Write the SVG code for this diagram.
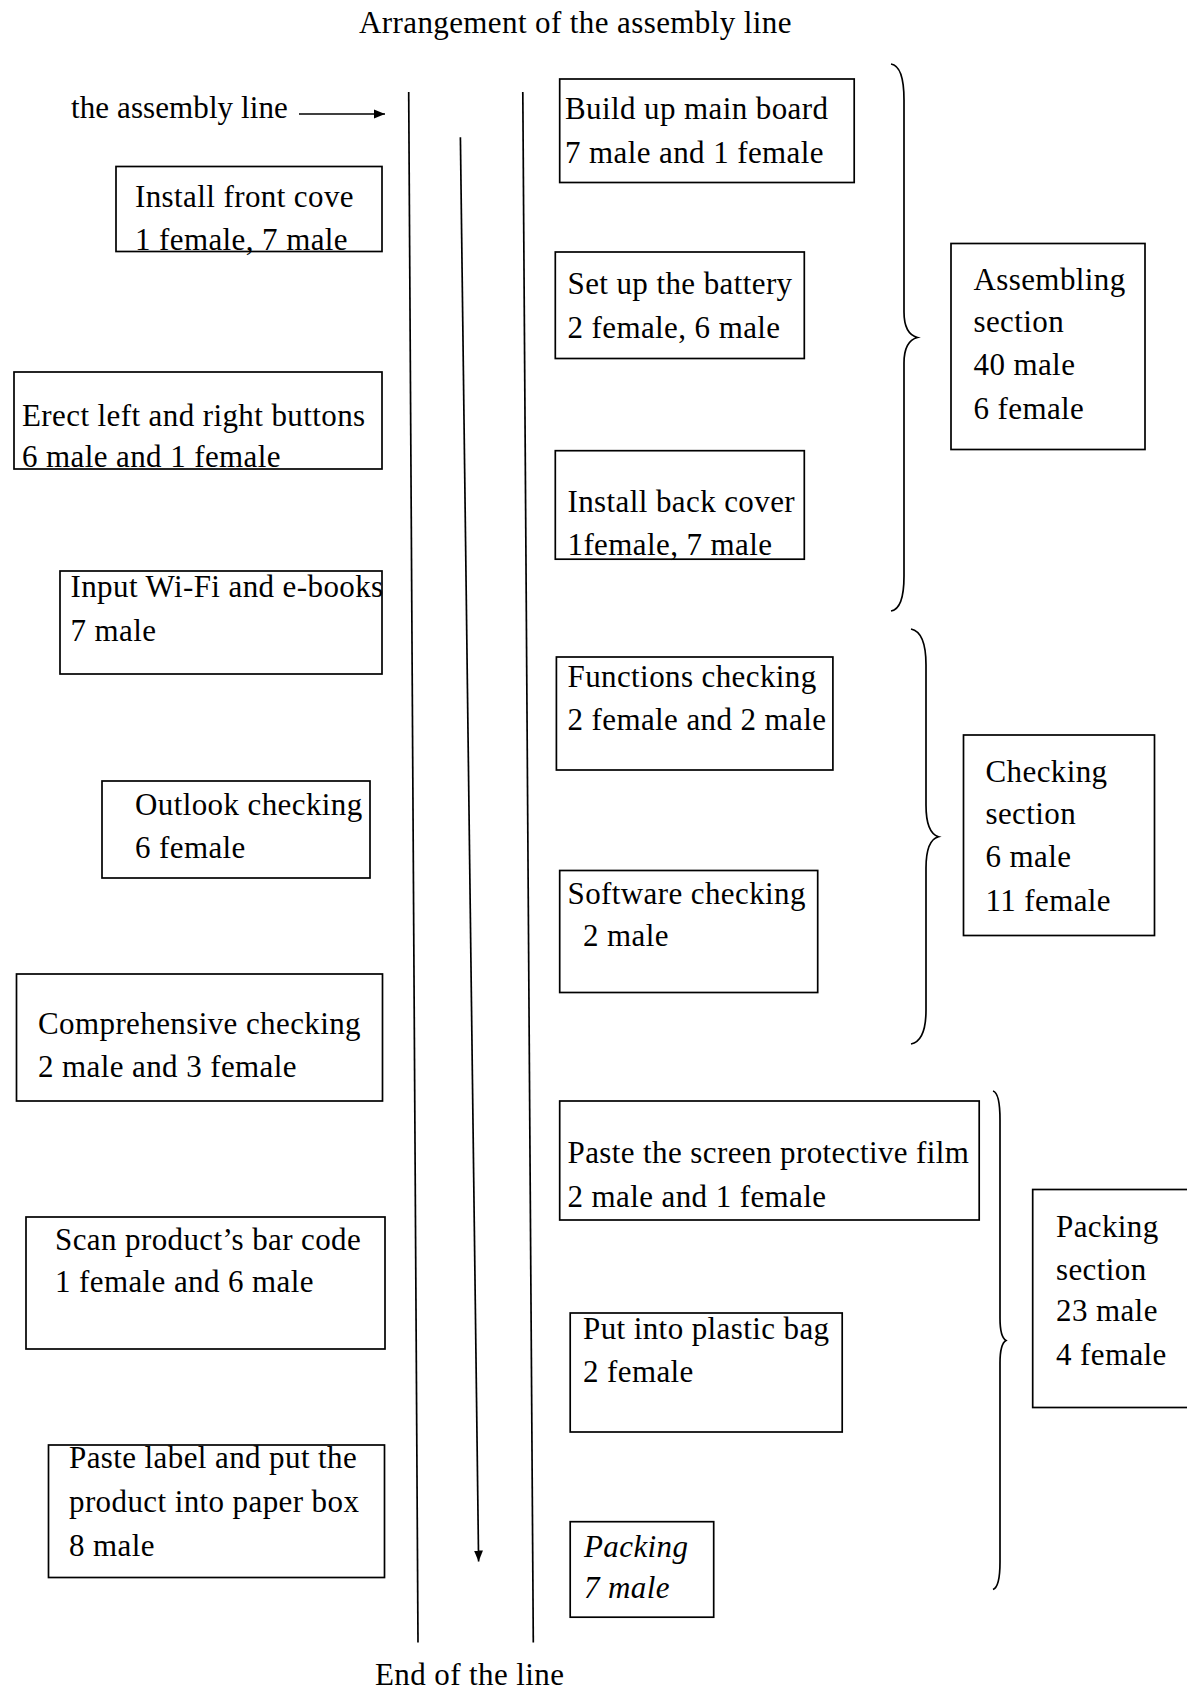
<svg xmlns="http://www.w3.org/2000/svg" width="1187" height="1691" viewBox="0 0 1187 1691">
<style>
text{font-family:"Liberation Serif","Times New Roman",serif;font-size:31px;letter-spacing:0.4px;fill:#000}
.box{fill:none;stroke:#000;stroke-width:1.7}
.ln{fill:none;stroke:#000;stroke-width:1.7}
.br{fill:none;stroke:#000;stroke-width:1.7}
.it{font-style:italic}
</style>
<defs>
<marker id="ah" markerUnits="userSpaceOnUse" markerWidth="12" markerHeight="10" refX="11" refY="5" orient="auto">
<path d="M0,0.5 L11,5 L0,9.5 Z" fill="#000"/>
</marker>
</defs>
<rect width="1187" height="1691" fill="#fff"/>
<text x="359" y="33">Arrangement of the assembly line</text>
<text x="71" y="118" style="letter-spacing:0.1px">the assembly line</text>
<text x="375" y="1685">End of the line</text>

<g id="connectors">
<line class="ln" x1="299" y1="114" x2="385" y2="114" marker-end="url(#ah)"/>
<line class="ln" x1="408.7" y1="92" x2="418" y2="1642.5"/>
<line class="ln" x1="460.4" y1="137.3" x2="478.6" y2="1561.5" marker-end="url(#ah)"/>
<line class="ln" x1="522.8" y1="92" x2="533.3" y2="1642.5"/>
</g>

<g id="braces">
<path class="br" d="M891,64 Q904,66 904,100 L904,312 Q904,334 917.5,337.5 Q904,341 904,363 L904,576 Q904,609 891,611"/>
<path class="br" d="M911,629 Q926,632 926,665 L926,805 Q926,833 938.5,836.7 Q926,840 926,868 L926,1010 Q926,1041 911,1044"/>
<path class="br" d="M993,1091 Q1000,1093 1000,1120 L1000,1318 Q1000,1337 1006,1340.5 Q1000,1344 1000,1363 L1000,1562 Q1000,1587 993,1589.5"/>
</g>

<g id="n-front-cove">
<rect class="box" x="116" y="166.5" width="266" height="85"/>
<text x="135" y="207">Install front cove<tspan x="135" y="250">1 female, 7 male</tspan></text>
</g>
<g id="n-buttons">
<rect class="box" x="14" y="372" width="368" height="97"/>
<text x="22" y="426">Erect left and right buttons<tspan x="22" y="467">6 male and 1 female</tspan></text>
</g>
<g id="n-wifi">
<rect class="box" x="60" y="571" width="322" height="103"/>
<text x="70.5" y="597">Input Wi-Fi and e-books<tspan x="70.5" y="641">7 male</tspan></text>
</g>
<g id="n-outlook">
<rect class="box" x="102" y="781" width="268" height="97"/>
<text x="135" y="815">Outlook checking<tspan x="135" y="858">6 female</tspan></text>
</g>
<g id="n-comprehensive">
<rect class="box" x="16.5" y="974" width="366" height="127"/>
<text x="38" y="1034">Comprehensive checking<tspan x="38" y="1077">2 male and 3 female</tspan></text>
</g>
<g id="n-scan">
<rect class="box" x="26" y="1217" width="359" height="132"/>
<text x="55" y="1250">Scan product’s bar code<tspan x="55" y="1292">1 female and 6 male</tspan></text>
</g>
<g id="n-label">
<rect class="box" x="48.5" y="1445" width="336" height="132.5"/>
<text x="69" y="1468">Paste label and put the<tspan x="69" y="1512">product into paper box</tspan><tspan x="69" y="1556">8 male</tspan></text>
</g>

<g id="n-main-board">
<rect class="box" x="559.7" y="79" width="294.5" height="103.5"/>
<text x="565" y="119">Build up main board<tspan x="565" y="162.5">7 male and 1 female</tspan></text>
</g>
<g id="n-battery">
<rect class="box" x="555.3" y="252" width="249" height="106.5"/>
<text x="567.5" y="294">Set up the battery<tspan x="567.5" y="337.5">2 female, 6 male</tspan></text>
</g>
<g id="n-back-cover">
<rect class="box" x="555.3" y="450.7" width="249" height="108.5"/>
<text x="567.5" y="511.5">Install back cover<tspan x="567.5" y="555">1female, 7 male</tspan></text>
</g>
<g id="n-functions">
<rect class="box" x="556.4" y="657" width="276.5" height="113"/>
<text x="567.5" y="686.5">Functions checking<tspan x="567.5" y="729.5">2 female and 2 male</tspan></text>
</g>
<g id="n-software">
<rect class="box" x="559.7" y="870.5" width="258" height="122"/>
<text x="567.5" y="904">Software checking<tspan x="583" y="946">2 male</tspan></text>
</g>
<g id="n-film">
<rect class="box" x="559.7" y="1101" width="419.5" height="119"/>
<text x="567.5" y="1163">Paste the screen protective film<tspan x="567.5" y="1206.5">2 male and 1 female</tspan></text>
</g>
<g id="n-plastic">
<rect class="box" x="570.2" y="1313" width="272" height="119"/>
<text x="583" y="1338.5">Put into plastic bag<tspan x="583" y="1381.5">2 female</tspan></text>
</g>
<g id="n-packing">
<rect class="box" x="570.2" y="1521.7" width="143.5" height="95.5"/>
<text class="it" x="584" y="1556.5">Packing<tspan x="584" y="1598">7 male</tspan></text>
</g>

<g id="s-assembling">
<rect class="box" x="951" y="243.5" width="194" height="206"/>
<text x="973.5" y="290">Assembling<tspan x="973.5" y="332">section</tspan><tspan x="973.5" y="375">40 male</tspan><tspan x="973.5" y="419">6 female</tspan></text>
</g>
<g id="s-checking">
<rect class="box" x="963.5" y="735" width="191" height="200.5"/>
<text x="985.5" y="781.5">Checking<tspan x="985.5" y="823.5">section</tspan><tspan x="985.5" y="867">6 male</tspan><tspan x="985.5" y="911">11 female</tspan></text>
</g>
<g id="s-packing">
<rect class="box" x="1032.7" y="1189.5" width="170" height="218"/>
<text x="1056" y="1237">Packing<tspan x="1056" y="1280">section</tspan><tspan x="1056" y="1321">23 male</tspan><tspan x="1056" y="1365">4 female</tspan></text>
</g>
</svg>
